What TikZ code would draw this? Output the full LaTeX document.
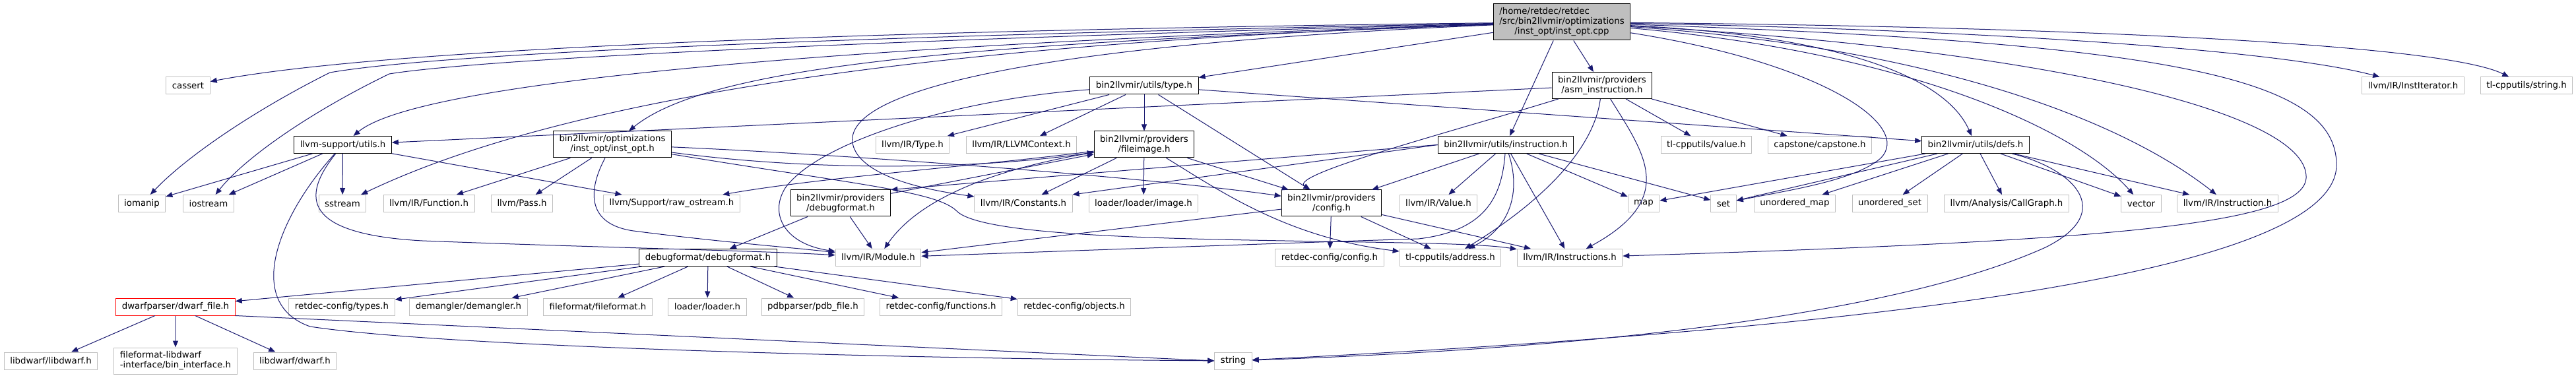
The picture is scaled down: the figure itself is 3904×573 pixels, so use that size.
\documentclass[tikz,border=0pt]{standalone}
\usepackage{fontspec}
\setmainfont{DejaVu Sans}
\usepackage{tikz}
\usetikzlibrary{arrows.meta}

\definecolor{edgeblue}{RGB}{25,25,112}
\definecolor{hdrgray}{RGB}{191,191,191}

\tikzset{
  hdr/.style={draw=hdrgray,line width=0.75pt,fill=white,align=center,font=\fontsize{10}{11.25}\selectfont,inner xsep=6.8pt,inner ysep=1pt,minimum height=19.5pt},
  dochdr/.style={hdr,draw=black},
  twoline/.style={minimum height=30pt},
  trunchdr/.style={hdr,draw=red},
  rootbox/.style={hdr,draw=black,fill=hdrgray,minimum height=41.25pt},
  dep/.style={draw=edgeblue,line width=0.75pt,-{Triangle[length=7.5pt,width=6pt]}}
}

\begin{document}
\begin{tikzpicture}[x=0.75pt,y=-0.75pt]
\fill[white] (0,0) rectangle (3904,573);
\useasboundingbox (0,0) rectangle (3904,573);

\node[rootbox] (root) at (2367,33.5) {\begin{tabular}{@{}l@{}}/home/retdec/retdec\\/src/bin2llvmir/optimizations\\\multicolumn{1}{@{}c@{}}{/inst\_opt/inst\_opt.cpp}\end{tabular}};

\node[hdr] (cassert) at (285,130) {cassert};
\node[dochdr] (typeh) at (1734,130) {bin2llvmir/utils/type.h};
\node[dochdr,twoline] (asminstr) at (2428,129.5) {bin2llvmir/providers\\/asm\_instruction.h};
\node[hdr] (institer) at (3657,130) {llvm/IR/InstIterator.h};
\node[hdr] (tlstring) at (3829,130) {tl-cpputils/string.h};

\node[dochdr] (lsutils) at (519.5,219.5) {llvm-support/utils.h};
\node[dochdr,twoline] (instopth) at (928,219) {bin2llvmir/optimizations\\/inst\_opt/inst\_opt.h};
\node[hdr] (irtype) at (1383,219.5) {llvm/IR/Type.h};
\node[hdr] (llvmctx) at (1548,219.5) {llvm/IR/LLVMContext.h};
\node[dochdr,twoline] (fileimage) at (1734,219) {bin2llvmir/providers\\/fileimage.h};
\node[dochdr] (instrh) at (2282,219.5) {bin2llvmir/utils/instruction.h};
\node[hdr] (tlvalue) at (2586,219.5) {tl-cpputils/value.h};
\node[hdr] (capstone) at (2758,219.5) {capstone/capstone.h};
\node[dochdr] (defsh) at (2994,219.5) {bin2llvmir/utils/defs.h};

\node[hdr] (iomanip) at (215,308.5) {iomanip};
\node[hdr] (iostream) at (316,308.5) {iostream};
\node[hdr] (sstream) at (519,308.5) {sstream};
\node[hdr] (irfunc) at (650,308.5) {llvm/IR/Function.h};
\node[hdr] (pass) at (791,308.5) {llvm/Pass.h};
\node[hdr] (rawos) at (1018,308.5) {llvm/Support/raw\_ostream.h};
\node[dochdr,twoline] (dbgprov) at (1274,308) {bin2llvmir/providers\\/debugformat.h};
\node[hdr] (constants) at (1551,308.5) {llvm/IR/Constants.h};
\node[hdr] (ldimage) at (1733,308.5) {loader/loader/image.h};
\node[dochdr,twoline] (configprov) at (2018,308) {bin2llvmir/providers\\/config.h};
\node[hdr] (irvalue) at (2180,308.5) {llvm/IR/Value.h};
\node[hdr] (map) at (2491,308.5) {map};
\node[hdr] (set) at (2612,308.5) {set};
\node[hdr] (umap) at (2720,308.5) {unordered\_map};
\node[hdr] (uset) at (2864,308.5) {unordered\_set};
\node[hdr] (callgraph) at (3041,308.5) {llvm/Analysis/CallGraph.h};
\node[hdr] (vector) at (3245,308.5) {vector};
\node[hdr] (irinstr) at (3376,308.5) {llvm/IR/Instruction.h};

\node[dochdr] (dbgfmt) at (1073,390.5) {debugformat/debugformat.h};
\node[hdr] (module) at (1331,390.5) {llvm/IR/Module.h};
\node[hdr] (rcconfig) at (2015,390.5) {retdec-config/config.h};
\node[hdr] (tladdr) at (2198,390.5) {tl-cpputils/address.h};
\node[hdr] (irinstrs) at (2379,390.5) {llvm/IR/Instructions.h};

\node[trunchdr] (dwarffile) at (266,465) {dwarfparser/dwarf\_file.h};
\node[hdr] (rctypes) at (518,465) {retdec-config/types.h};
\node[hdr] (demangler) at (710,465) {demangler/demangler.h};
\node[hdr] (fileformat) at (906,465) {fileformat/fileformat.h};
\node[hdr] (loader) at (1072,465) {loader/loader.h};
\node[hdr] (pdb) at (1232,465) {pdbparser/pdb\_file.h};
\node[hdr] (rcfuncs) at (1426,465) {retdec-config/functions.h};
\node[hdr] (rcobjs) at (1628,465) {retdec-config/objects.h};

\node[hdr] (libdwarf) at (77,547) {libdwarf/libdwarf.h};
\node[hdr,twoline,align=left] (binif) at (266,547) {fileformat-libdwarf\\-interface/bin\_interface.h};
\node[hdr] (dwarfh) at (447,547) {libdwarf/dwarf.h};
\node[hdr] (string) at (1869,547) {string};

\draw[dep] (root) .. controls (1400,45) and (600,70) .. (cassert);
\draw[dep] (root) .. controls (1500,50) and (700,75) .. (500,110) .. controls (380,170) and (280,240) .. (iomanip);
\draw[dep] (root) .. controls (1500,55) and (760,85) .. (590,112) .. controls (470,170) and (370,240) .. (iostream);
\draw[dep] (root) .. controls (1500,60) and (650,110) .. (lsutils);
\draw[dep] (root) .. controls (1400,65) and (850,150) .. (sstream);
\draw[dep] (root) .. controls (1500,65) and (1080,95) .. (instopth);
\draw[dep] (root) -- (typeh);
\draw[dep] (root) .. controls (1500,70) and (1240,150) .. (1300,235) .. controls (1330,275) and (1420,290) .. (constants);
\draw[dep] (root) -- (asminstr);
\draw[dep] (root) -- (instrh);
\draw[dep] (root) .. controls (2800,55) and (2950,120) .. (defsh);
\draw[dep] (root) .. controls (3000,45) and (3450,75) .. (institer);
\draw[dep] (root) .. controls (3100,40) and (3700,65) .. (tlstring);
\draw[dep] (root) .. controls (3300,65) and (3541,120) .. (3541,250) .. controls (3541,430) and (2700,505) .. (string);
\draw[dep] (root) .. controls (3100,75) and (3500,170) .. (3495,270) .. controls (3490,340) and (3200,365) .. (irinstrs);
\draw[dep] (root) .. controls (2900,70) and (3200,170) .. (irinstr);
\draw[dep] (root) .. controls (2900,80) and (3150,200) .. (vector);
\draw[dep] (root) .. controls (2760,95) and (2900,190) .. (2850,240) .. controls (2810,275) and (2700,290) .. (set);

\draw[dep] (lsutils) -- (iomanip);
\draw[dep] (lsutils) -- (iostream);
\draw[dep] (lsutils) -- (sstream);
\draw[dep] (lsutils) .. controls (420,330) and (370,460) .. (470,495) .. controls (700,530) and (1500,545) .. (string);
\draw[dep] (lsutils) .. controls (455,300) and (460,355) .. (640,365) .. controls (900,375) and (1150,380) .. (module);
\draw[dep] (lsutils) -- (rawos);

\draw[dep] (instopth) -- (irfunc);
\draw[dep] (instopth) -- (pass);
\draw[dep] (instopth) .. controls (890,290) and (890,340) .. (960,350) .. controls (1100,368) and (1200,375) .. (module);
\draw[dep] (instopth) .. controls (1300,235) and (1750,270) .. (configprov);
\draw[dep] (instopth) .. controls (1250,262) and (1500,255) .. (fileimage);
\draw[dep] (instopth) .. controls (1300,280) and (1420,290) .. (1450,320) .. controls (1490,360) and (1800,362) .. (2000,366) .. controls (2150,368) and (2250,370) .. (irinstrs);

\draw[dep] (typeh) -- (irtype);
\draw[dep] (typeh) -- (llvmctx);
\draw[dep] (typeh) -- (fileimage);
\draw[dep] (typeh) -- (configprov);
\draw[dep] (typeh) -- (defsh);
\draw[dep] (typeh) .. controls (1450,150) and (1240,215) .. (1190,285) .. controls (1165,325) and (1190,370) .. (module);

\draw[dep] (asminstr) -- (lsutils);
\draw[dep] (asminstr) .. controls (2200,200) and (1950,265) .. (configprov);
\draw[dep] (asminstr) .. controls (2415,230) and (2330,310) .. (tladdr);
\draw[dep] (asminstr) .. controls (2490,230) and (2545,300) .. (irinstrs);
\draw[dep] (asminstr) -- (tlvalue);
\draw[dep] (asminstr) -- (capstone);

\draw[dep] (fileimage) -- (ldimage);
\draw[dep] (fileimage) -- (constants);
\draw[dep] (fileimage) -- (configprov);
\draw[dep] (fileimage) .. controls (1850,290) and (1950,360) .. (tladdr);
\draw[dep] (fileimage) .. controls (1540,250) and (1400,290) .. (module);
\draw[dep] (fileimage) .. controls (1500,250) and (1250,268) .. (rawos);

\draw[dep] (instrh.west) -- (constants.north east);
\draw[dep] (instrh.west) -- (dbgprov.north east);
\draw[dep] (instrh) -- (configprov);
\draw[dep] (instrh) -- (irvalue);
\draw[dep] (instrh) .. controls (2276,300) and (2250,350) .. (2150,362) .. controls (1900,370) and (1550,383) .. (module);
\draw[dep] (instrh) .. controls (2305,290) and (2290,345) .. (tladdr);
\draw[dep] (instrh) -- (irinstrs);
\draw[dep] (instrh) -- (map);
\draw[dep] (instrh) -- (set);

\draw[dep] (defsh) -- (map);
\draw[dep] (defsh) -- (set);
\draw[dep] (defsh) -- (umap);
\draw[dep] (defsh) -- (uset);
\draw[dep] (defsh) -- (callgraph);
\draw[dep] (defsh) .. controls (3140,255) and (3210,320) .. (3100,375) .. controls (2900,465) and (2500,525) .. (string);
\draw[dep] (defsh) -- (vector);
\draw[dep] (defsh) -- (irinstr);

\draw[dep] (dbgprov) -- (fileimage);
\draw[dep] (dbgprov) -- (dbgfmt);
\draw[dep] (dbgprov) -- (module);

\draw[dep] (configprov) -- (rcconfig);
\draw[dep] (configprov) -- (tladdr);
\draw[dep] (configprov) -- (irinstrs);
\draw[dep] (configprov) -- (module);

\draw[dep] (dbgfmt) -- (dwarffile);
\draw[dep] (dbgfmt) -- (rctypes);
\draw[dep] (dbgfmt) -- (demangler);
\draw[dep] (dbgfmt) -- (fileformat);
\draw[dep] (dbgfmt) -- (loader);
\draw[dep] (dbgfmt) -- (pdb);
\draw[dep] (dbgfmt) -- (rcfuncs);
\draw[dep] (dbgfmt) -- (rcobjs);

\draw[dep] (dwarffile) -- (libdwarf);
\draw[dep] (dwarffile) -- (binif);
\draw[dep] (dwarffile) -- (dwarfh);
\draw[dep] (dwarffile.south east) -- (string.west);
\end{tikzpicture}
\end{document}
